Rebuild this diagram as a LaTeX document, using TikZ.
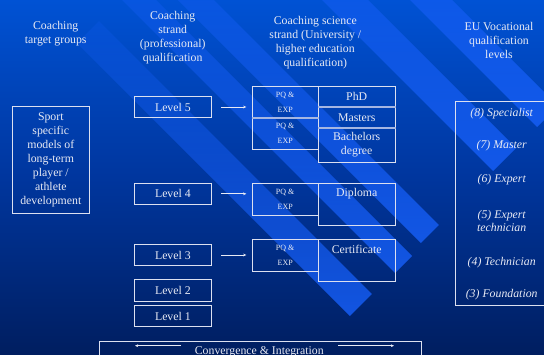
\documentclass[tikz,border=0pt]{standalone}
\usepackage{fontspec}
\setmainfont{Liberation Serif}
\usetikzlibrary{arrows.meta,positioning,fadings}
\definecolor{bgtop}{RGB}{0,100,242}
\definecolor{bgq1}{RGB}{0,82,212}
\definecolor{bgmid}{RGB}{0,54,158}
\definecolor{bgq3}{RGB}{0,30,96}
\definecolor{bgbot}{RGB}{2,10,30}
\definecolor{stripe}{RGB}{22,94,246}
\definecolor{ink}{RGB}{232,234,244}
\definecolor{frame}{RGB}{220,224,240}
\definecolor{sepline}{RGB}{165,182,226}
\pgfdeclareverticalshading{slidebg}{100bp}{color(0bp)=(bgbot); color(25bp)=(bgq3);
  color(50bp)=(bgmid); color(75bp)=(bgq1); color(100bp)=(bgtop)}
\tikzfading[name=stripefade,top color=transparent!75,bottom color=transparent!0]
\tikzset{
  hd/.style={text=ink,align=center,inner sep=0pt},
  box/.style={draw=frame,line width=0.9pt,inner sep=0pt,text=ink,align=center},
  lvl/.style={box,minimum width=77pt,minimum height=21.4pt},
  pq/.style={box,font=\fontsize{8}{15}\selectfont,minimum width=66.3pt,minimum height=31.7pt},
  deg/.style={box,minimum width=76.7pt},
  degtext/.style={text=ink,inner sep=0pt,minimum height=21pt},
  eutxt/.style={text=ink,align=center,inner sep=0pt,font=\fontsize{11.8}{12.7}\selectfont\itshape},
  sep/.style={draw=sepline,line width=2.4pt},
  arr/.style={->,draw=ink,line width=0.8pt,shorten <=9.5pt,shorten >=5.3pt}
}
\begin{document}
\begin{tikzpicture}[x=1pt,y=-1pt,font=\fontsize{11.8}{14}\selectfont,
    >={Stealth[length=3.2pt,width=2.8pt]}]
\useasboundingbox (0,0) rectangle (544,354);
\clip (0,0) rectangle (544,354);
% background
\shade[shading=slidebg] (0,0) rectangle (544,354);
\foreach \a/\b/\s/\e in {34/78/120/666,122/156/0/668,178/214/0/664,322/368/0/664,410/452/0/664}
  \fill[stripe,opacity=.85,path fading=stripefade] ({(\a+\s)/2},{(\s-\a)/2}) -- ({(\b+\s)/2},{(\s-\b)/2})
    -- ({(\b+\e)/2},{(\e-\b)/2}) -- ({(\a+\e)/2},{(\e-\a)/2}) -- cycle;

% column heads
\node[hd] (hTarget) at (55.7,33.5) {Coaching\\target groups};
\node[hd] (hStrand) at (172.7,37.5) {Coaching\\strand\\(professional)\\qualification};
\node[hd] (hScience) at (315.3,42.5) {Coaching science\\strand (University /\\higher education\\qualification)};
\node[hd] (hEU) at (499,40) {EU Vocational\\qualification\\levels};

% target groups
\node[box,minimum width=77pt,minimum height=106.6pt] (sport) at (50.8,160)
  {Sport\\specific\\models of\\long-term\\player /\\athlete\\development};

% professional strand
\node[lvl] (lv5) at (172.9,107) {Level 5};
\node[lvl] (lv4) at (172.9,193.8) {Level 4};
\node[lvl] (lv3) at (172.9,255) {Level 3};
\node[lvl] (lv2) at (172.9,290.5) {Level 2};
\node[lvl] (lv1) at (172.9,316) {Level 1};

% science strand
\node[pq] (pq5a) at (285.2,101.9) {PQ \&\\EXP};
\node[pq] (pq5b) at (285.2,133.5) {PQ \&\\EXP};
\node[pq] (pq4) at (285.2,199.3) {PQ \&\\EXP};
\node[pq] (pq3) at (285.2,255.5) {PQ \&\\EXP};
\node[deg,minimum height=20.7pt] (phd) at (356.7,96.35) {PhD};
\node[deg,minimum height=21pt] (masters) at (356.7,117.2) {Masters};
\node[deg,minimum height=34.6pt] (bach) at (356.7,145) {Bachelors\\degree};
\node[deg,minimum height=42pt] (dip) at (356.7,204.3) {};
\node[degtext,anchor=north] (diptxt) at (dip.north) {Diploma};
\node[deg,minimum height=42.4pt] (cert) at (356.7,260.5) {};
\node[degtext,anchor=north] (certtxt) at (cert.north) {Certificate};
\draw[sep] (pq5a.south west) -- (pq5a.south east);
\draw[sep] (phd.south west) -- (phd.south east);
\draw[sep] (masters.south west) -- (masters.south east);

\draw[arr] (lv5.east) -- (lv5.east -| pq5a.west);
\draw[arr] (lv4.east) -- (lv4.east -| pq4.west);
\draw[arr] (lv3.east) -- (lv3.east -| pq3.west);

% EU levels
\node[box,minimum width=88.3pt,minimum height=203.6pt] (eu) at (499.85,203.5) {};
\node[eutxt] (eu8) at (501.7,113.3) {(8) Specialist};
\node[eutxt] (eu7) at (501.7,146) {(7) Master};
\node[eutxt] (eu6) at (501.7,180) {(6) Expert};
\node[eutxt] (eu5) at (501.7,221.3) {(5) Expert\\technician};
\node[eutxt] (eu4) at (501.7,262.3) {(4) Technician};
\node[eutxt] (eu3) at (501.7,295) {(3) Foundation};

% convergence
\node[box,minimum width=321.7pt,minimum height=30pt,anchor=north west] (conv) at (99,340.7) {};
\node[text=ink,anchor=base,inner sep=0pt] (convtxt) at (259.3,354.5) {Convergence \& Integration};
\coordinate (cl1) at (181,345.7);
\coordinate (cl2) at (135,345.7);
\coordinate (cr1) at (338.3,345.7);
\coordinate (cr2) at (394,345.7);
\draw[->,draw=ink,line width=0.8pt] (cl1) -- (cl2);
\draw[->,draw=ink,line width=0.8pt] (cr1) -- (cr2);
\end{tikzpicture}
\end{document}
